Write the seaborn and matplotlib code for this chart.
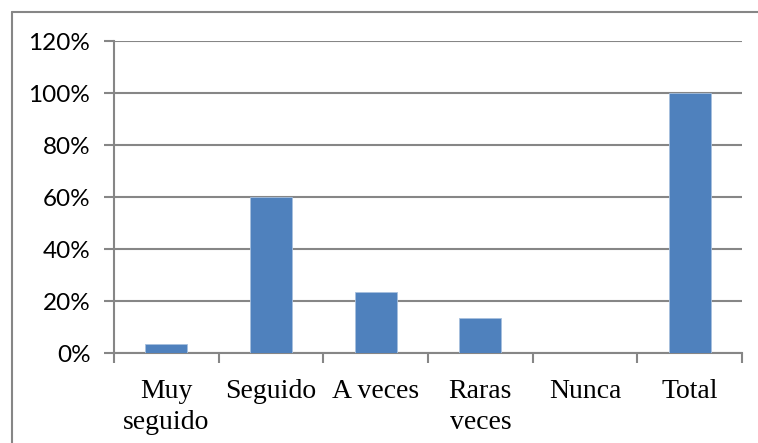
import matplotlib
matplotlib.use("Agg")
import matplotlib.pyplot as plt
from matplotlib.lines import Line2D
from matplotlib.ticker import FuncFormatter, MultipleLocator
import seaborn as sns
import pandas as pd

categories = ["Muy\nseguido", "Seguido", "A veces", "Raras\nveces", "Nunca", "Total"]
shares = [0.033, 0.60, 0.233, 0.133, 0.0, 1.0]

df = pd.DataFrame({"categoria": categories, "porcentaje": shares})

sns.set_theme(style="white")
grid_color = "#868686"

fig = plt.figure(figsize=(7.58, 4.43), dpi=100)
ax = fig.add_axes([114 / 758, 1 - 353 / 443, (742 - 114) / 758, (353 - 41) / 443])

sns.barplot(data=df, x="categoria", y="porcentaje", order=categories,
            color="#4F81BD", saturation=1, width=0.4,
            edgecolor="#A7C0DE", linewidth=0.6, ax=ax, zorder=3)

ax.set_ylim(0, 1.2)
ax.set_xlim(-0.5, len(categories) - 0.5)
ax.yaxis.set_major_locator(MultipleLocator(0.2))
ax.yaxis.set_major_formatter(FuncFormatter(lambda v, _: f"{v * 100:.0f}%"))
ax.grid(axis="y", color=grid_color, linewidth=1.5, zorder=0)
ax.grid(axis="x", visible=False)
ax.set_xlabel("")
ax.set_ylabel("")

for side in ("top", "right"):
    ax.spines[side].set_visible(False)
for side in ("left", "bottom"):
    ax.spines[side].set_color(grid_color)
    ax.spines[side].set_linewidth(1.5)

# ticks on category boundaries below the axis
ax.set_xticks([i - 0.5 for i in range(len(categories) + 1)], minor=True)
ax.tick_params(axis="x", which="minor", length=7, width=1.5, color=grid_color,
               direction="out", bottom=True)
ax.tick_params(axis="x", which="major", length=0, pad=19,
               labelsize=20, labelcolor="black")
ax.tick_params(axis="y", which="major", length=7, width=1.5, color=grid_color,
               direction="out", left=True, pad=10, labelsize=17.5, labelcolor="black")

for lab in ax.get_xticklabels():
    lab.set_fontfamily("Liberation Serif")
    lab.set_linespacing(1.3)
for lab in ax.get_yticklabels():
    lab.set_fontfamily("Lato")

# chart area border (top and left edges visible)
fig.add_artist(Line2D([12 / 758, 1.0], [1 - 12 / 443] * 2, color=grid_color,
                      linewidth=1.5, transform=fig.transFigure))
fig.add_artist(Line2D([12 / 758] * 2, [0.0, 1 - 12 / 443], color=grid_color,
                      linewidth=1.5, transform=fig.transFigure))

fig.savefig("out.png", dpi=100, facecolor="white")
